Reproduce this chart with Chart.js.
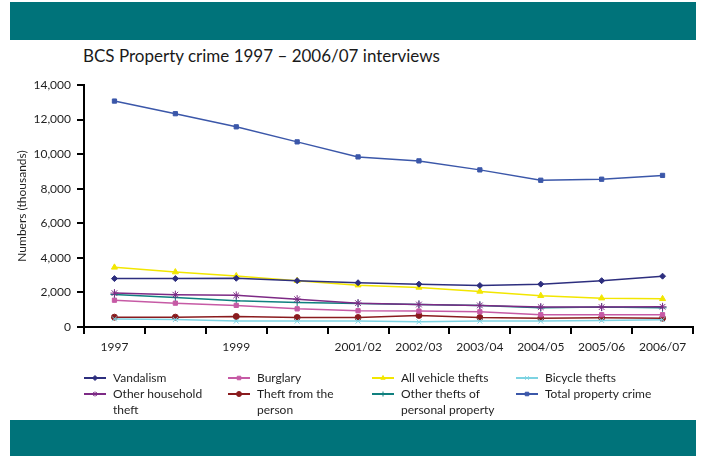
<!DOCTYPE html>
<html>
<head>
<meta charset="utf-8">
<script src="https://cdn.jsdelivr.net/npm/chart.js@4.4.1/dist/chart.umd.min.js"></script>
<style>
    html, body { margin: 0; padding: 0; background: #fff; }
    #page { position: relative; width: 702px; height: 457px; overflow: hidden; font-family: Lato, "Open Sans", sans-serif; }
    .band { position: absolute; left: 10px; width: 686px; background: #00737a; }
    #top-band { top: 2px; height: 38px; }
    #bottom-band { top: 420px; height: 36px; }
    #title { position: absolute; left: 83px; top: 45px; font-size: 17px; color: #1a1a1a; white-space: nowrap; }
    #chart-wrap { position: absolute; left: 0; top: 0; width: 702px; height: 457px; }
</style>
</head>
<body>
<div id="page">
    <div id="top-band" class="band"></div>
    <div id="title">BCS Property crime 1997 – 2006/07 interviews</div>
    <div id="chart-wrap"><canvas id="crimeChart" width="702" height="457"></canvas></div>
    <div id="bottom-band" class="band"></div>
</div>
<script>
// survey years; the 1998 and 2000 points carry no label
const years = ['1997', '', '1999', '', '2001/02', '2002/03', '2003/04', '2004/05', '2005/06', '2006/07'];
const yTicks = [0, 2000, 4000, 6000, 8000, 10000, 12000, 14000];

// numbers in thousands
const vandalism = [2800, 2800, 2820, 2680, 2560, 2480, 2400, 2480, 2680, 2940];
const burglary = [1550, 1380, 1250, 1050, 940, 920, 880, 710, 710, 710];
const vehicleThefts = [3450, 3180, 2950, 2680, 2420, 2290, 2060, 1810, 1670, 1630];
const bicycleThefts = [470, 430, 340, 340, 340, 300, 340, 340, 380, 420];
const otherHousehold = [1960, 1870, 1830, 1610, 1380, 1300, 1250, 1150, 1150, 1170];
const theftFromPerson = [570, 570, 610, 550, 550, 670, 550, 510, 530, 510];
const otherPersonal = [1880, 1710, 1520, 1420, 1360, 1300, 1250, 1110, 1150, 1110];
const totalProperty = [13070, 12340, 11580, 10710, 9840, 9610, 9090, 8490, 8550, 8770];

const FONT = 'Lato, "Open Sans", sans-serif';

function series(label, data, color, style, radius) {
    return {
        label: label,
        data: data,
        borderColor: color,
        backgroundColor: color,
        pointStyle: style,
        pointRadius: radius || 3,
        pointBorderWidth: 1,
        borderWidth: 1.5,
        tension: 0,
        fill: false
    };
}

const datasets = [
    series(['Vandalism'], vandalism, '#2d2e7e', 'rectRot', 3),
    series(['Burglary'], burglary, '#c65aa5', 'rect', 3),
    series(['All vehicle thefts'], vehicleThefts, '#f2e600', 'triangle', 3.5),
    series(['Bicycle thefts'], bicycleThefts, '#7dd3e2', 'crossRot', 3.5),
    series(['Other household', 'theft'], otherHousehold, '#7d2a85', 'star', 4),
    series(['Theft from the', 'person'], theftFromPerson, '#8a1b1e', 'circle', 3),
    series(['Other thefts of', 'personal property'], otherPersonal, '#10807f', 'cross', 4),
    series(['Total property crime'], totalProperty, '#3b57a9', 'rect', 3)
];

// legend in four columns below the axis, labels may wrap
const legendColumns = [84, 228, 372, 516];
const legendRows = [378, 394];

const gridLegend = {
    id: 'gridLegend',
    afterDraw(chart) {
        const ctx = chart.ctx;
        ctx.save();
        ctx.font = '12px ' + FONT;
        ctx.textBaseline = 'middle';
        chart.data.datasets.forEach((ds, i) => {
            const x = legendColumns[i % 4];
            const y = legendRows[Math.floor(i / 4)];
            ctx.strokeStyle = ds.borderColor;
            ctx.lineWidth = 2;
            ctx.beginPath();
            ctx.moveTo(x, y);
            ctx.lineTo(x + 22, y);
            ctx.stroke();
            ctx.fillStyle = ds.backgroundColor;
            ctx.lineWidth = 1;
            Chart.helpers.drawPoint(ctx, {
                pointStyle: ds.pointStyle,
                radius: 2.5,
                borderWidth: 1,
                rotation: 0
            }, x + 11, y);
            ctx.fillStyle = '#1f1f1f';
            ds.label.forEach((line, j) => {
                ctx.fillText(line, x + 29, y + j * 16);
            });
        });
        ctx.restore();
    }
};

const ctx = document.getElementById('crimeChart').getContext('2d');
new Chart(ctx, {
    type: 'line',
    data: { labels: years, datasets: datasets },
    options: {
        responsive: false,
        animation: false,
        layout: { padding: { top: 85, right: 9, bottom: 100, left: 0 } },
        plugins: {
            legend: { display: false },
            tooltip: { enabled: false }
        },
        scales: {
            x: {
                offset: true,
                grid: {
                    offset: true,
                    drawOnChartArea: false,
                    drawTicks: true,
                    tickLength: 7,
                    color: '#000',
                    lineWidth: 2
                },
                border: { color: '#000', width: 2 },
                ticks: {
                    autoSkip: false,
                    maxRotation: 0,
                    padding: 6,
                    color: '#1f1f1f',
                    font: { family: FONT, size: 12 }
                },
                afterFit(scale) { scale.height = 30; }
            },
            y: {
                min: 0,
                max: 14000,
                afterBuildTicks(scale) {
                    scale.ticks = yTicks.map(v => ({ value: v }));
                },
                grid: {
                    drawOnChartArea: false,
                    drawTicks: true,
                    tickLength: 7,
                    color: '#000',
                    lineWidth: 2
                },
                border: { color: '#000', width: 2 },
                ticks: {
                    padding: 6,
                    color: '#1f1f1f',
                    font: { family: FONT, size: 12 },
                    callback: (v) => v.toLocaleString('en-GB')
                },
                title: {
                    display: true,
                    text: 'Numbers (thousands)',
                    color: '#1f1f1f',
                    font: { family: FONT, size: 12 },
                    padding: { top: 15, bottom: 0 }
                },
                afterFit(scale) { scale.width = 84; }
            }
        }
    },
    plugins: [gridLegend]
});
</script>
</body>
</html>
